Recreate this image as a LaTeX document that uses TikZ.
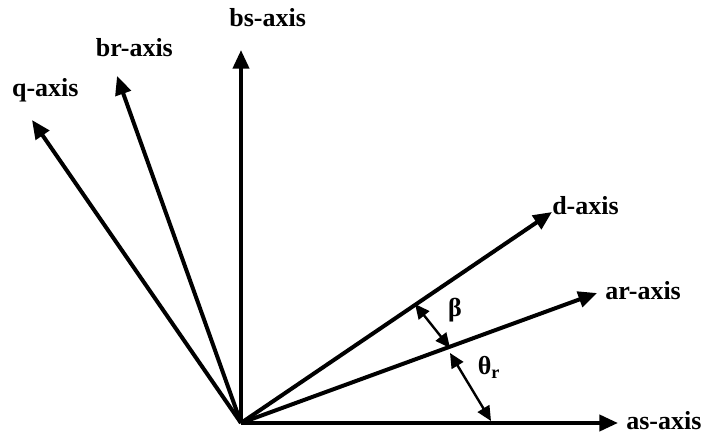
\documentclass[tikz,border=0pt]{standalone}
\usepackage{fontspec}
\setmainfont{Liberation Serif}
\usetikzlibrary{arrows.meta}
\usetikzlibrary{positioning}

\begin{document}
\begin{tikzpicture}[x=0.75pt,y=0.75pt,
  axis/.style={line width=3pt,-{Triangle[length=14pt,width=12pt]}},
  angle arrow/.style={line width=1.8pt,
    {Triangle[length=11pt,width=10pt]}-{Triangle[length=11pt,width=10pt]}},
  every node/.style={font=\fontsize{19.5}{23}\selectfont\bfseries,inner sep=0pt}]
\useasboundingbox (0,0) rectangle (705,434);
\coordinate (O) at (241,11);
% axis ends
\coordinate (as) at (618,11);
\coordinate (ar) at (597,141);
\coordinate (d) at (552,222);
\coordinate (bs) at (241,384);
\coordinate (br) at (117,358);
\coordinate (q) at (32,314);
% axes
\draw[axis] (O) -- (as);
\draw[axis] (O) -- (ar);
\draw[axis] (O) -- (d);
\draw[axis] (O) -- (bs);
\draw[axis] (O) -- (br);
\draw[axis] (O) -- (q);
% axis labels
\node[right=6pt of as, yshift=1.5pt] (aslabel) {as-axis};
\node[right=6pt of ar, yshift=2pt] (arlabel) {ar-axis};
\node[right=0pt of d, yshift=5pt] (dlabel) {d-axis};
\node[above=17pt of bs, xshift=20pt] (bslabel) {bs-axis};
\node[above=14pt of br, xshift=13pt] (brlabel) {br-axis};
\node[above=13pt of q, xshift=10pt] (qlabel) {q-axis};
% angles
\coordinate (beta1) at (415,130);
\coordinate (beta2) at (450,86);
\coordinate (theta1) at (450,81);
\coordinate (theta2) at (491,13);
\draw[angle arrow] (beta1) -- (beta2);
\draw[angle arrow] (theta1) -- (theta2);
\node (betalabel) at (455,124) {β};
\node (thetalabel) at (489,67) {θ\textsubscript{r}};
\end{tikzpicture}
\end{document}
